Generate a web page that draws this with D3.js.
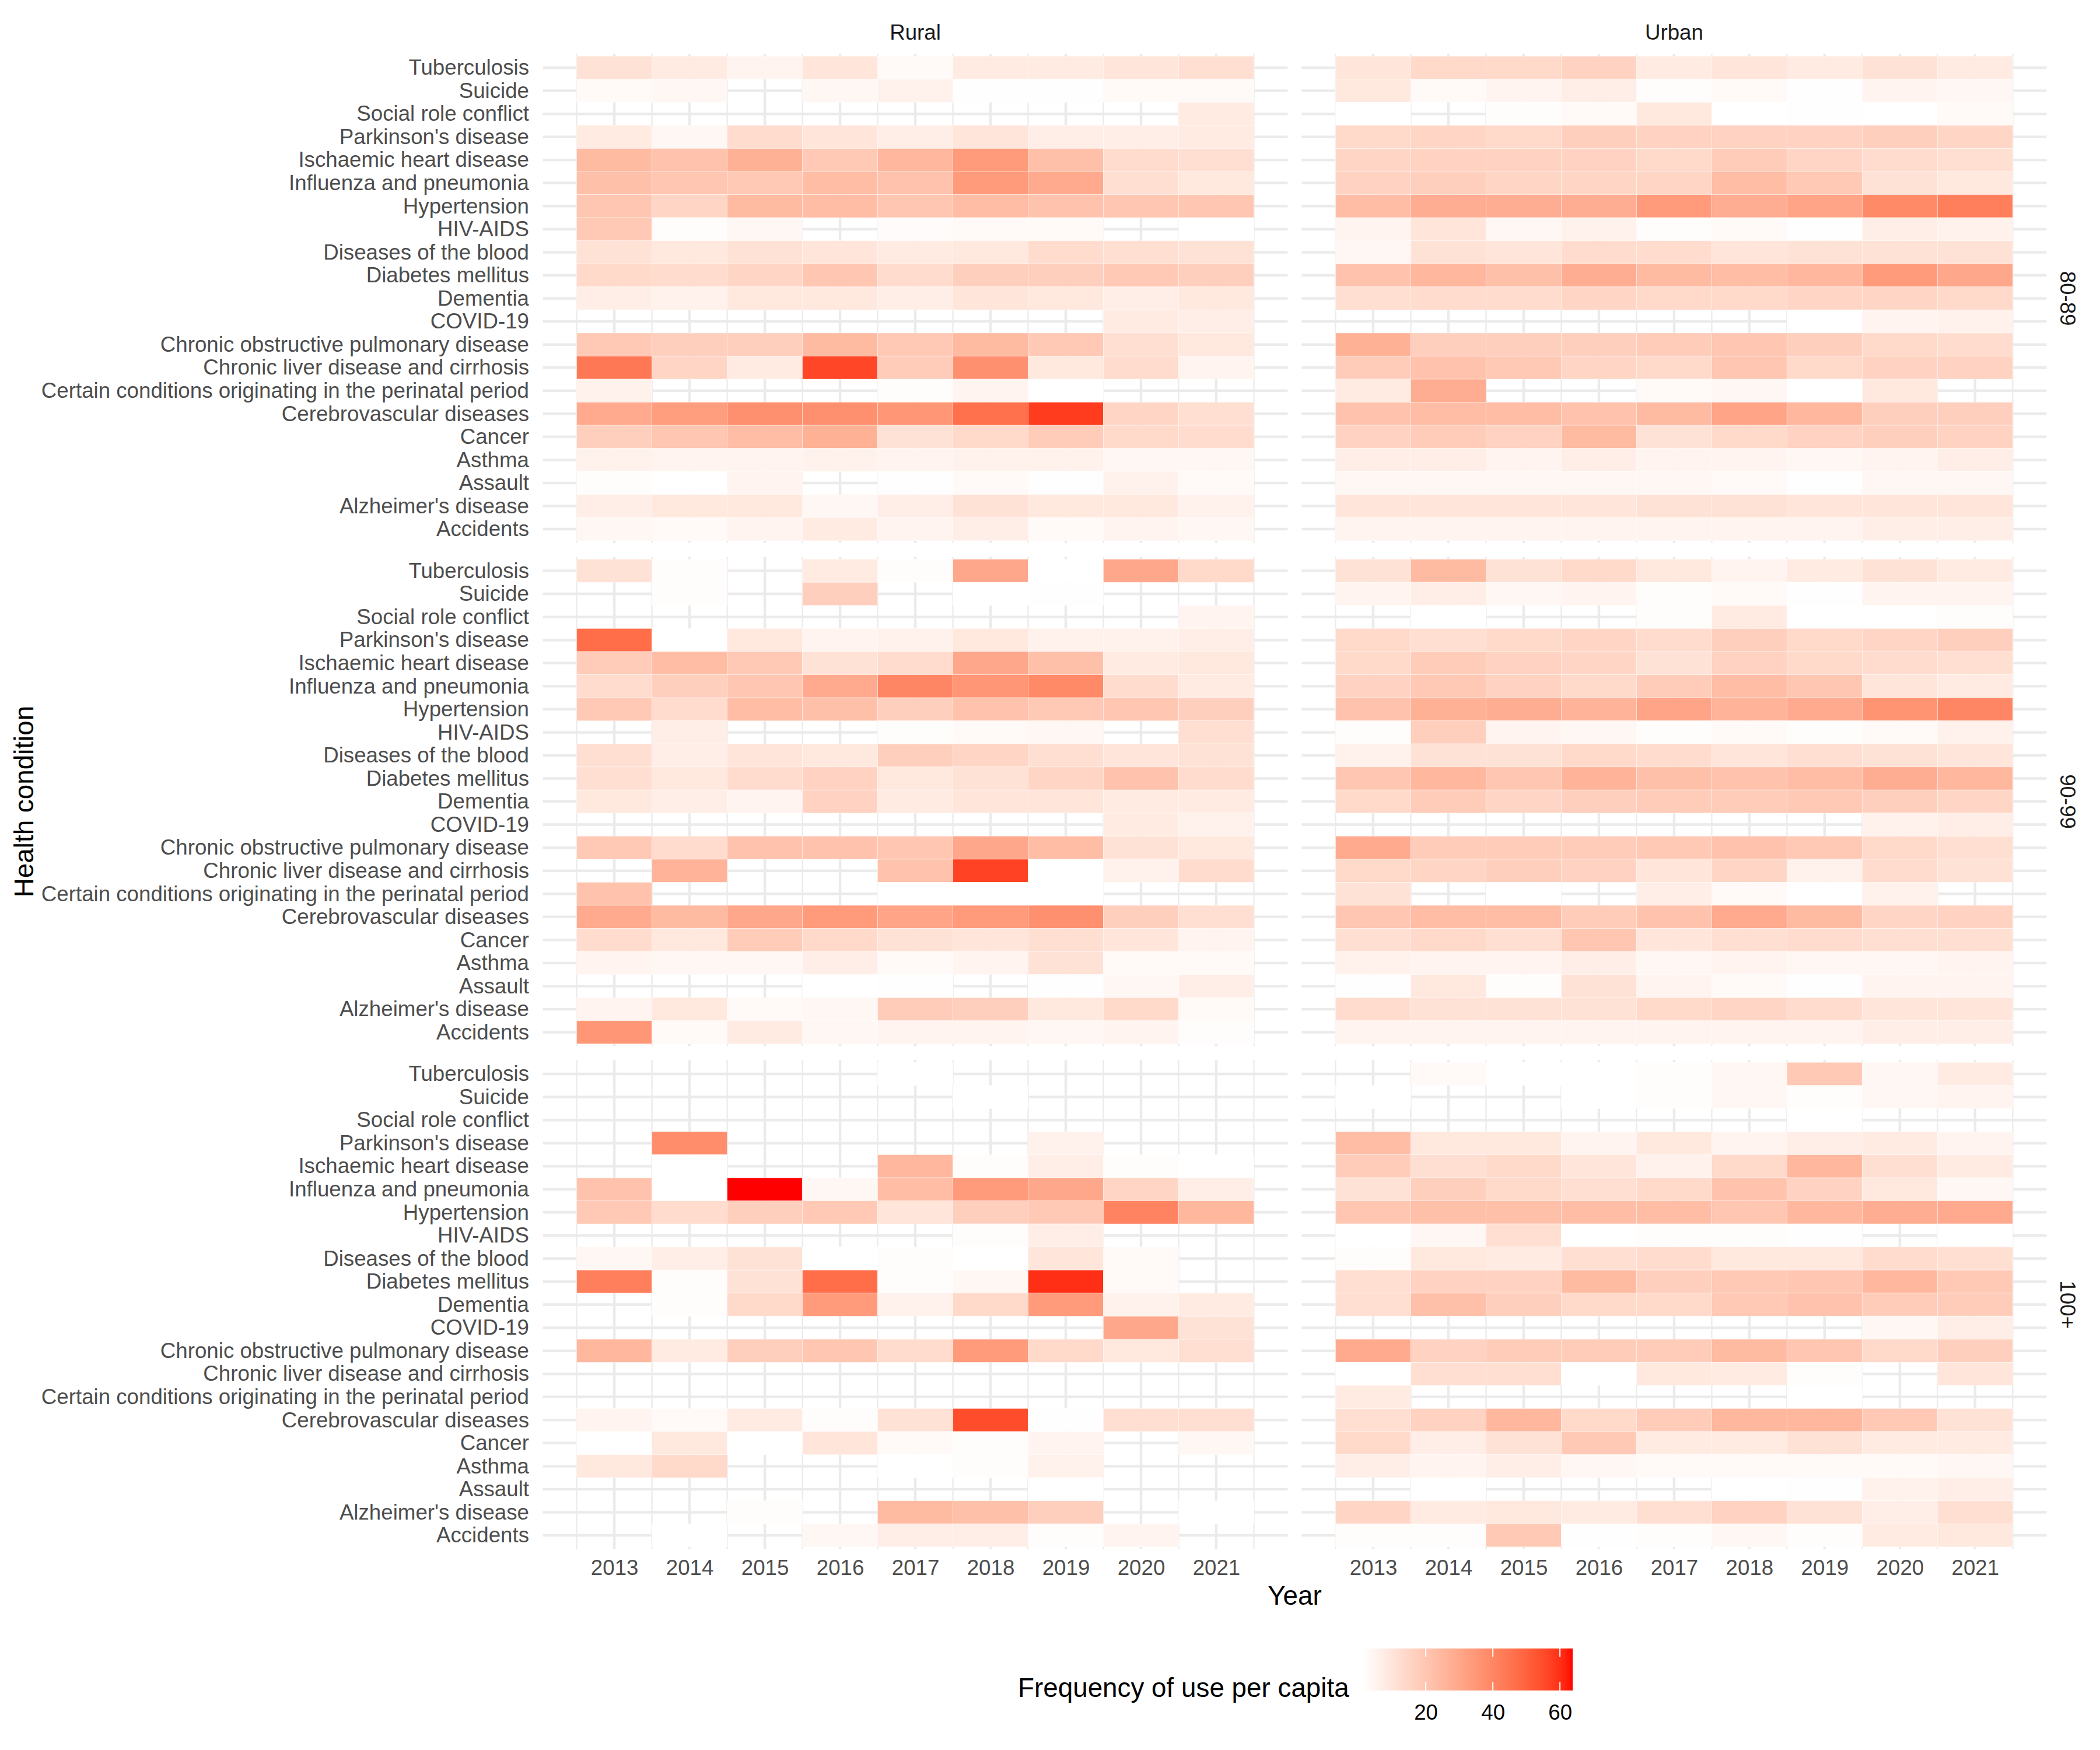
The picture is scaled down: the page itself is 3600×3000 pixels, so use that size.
<!DOCTYPE html>
<html>
<head>
<meta charset="utf-8">
<script src="https://cdn.jsdelivr.net/npm/d3@7"></script>
<style>
  body { margin: 0; background: #ffffff; }
  text { font-family: "Liberation Sans", Arial, Helvetica, sans-serif; }
</style>
</head>
<body>
<svg id="chart" width="3600" height="3000" xmlns="http://www.w3.org/2000/svg"></svg>
<script>
// ---------------- DATA ----------------
const years = [2013, 2014, 2015, 2016, 2017, 2018, 2019, 2020, 2021];
// top-to-bottom display order
const conditions = [
  "Tuberculosis", "Suicide", "Social role conflict", "Parkinson's disease",
  "Ischaemic heart disease", "Influenza and pneumonia", "Hypertension", "HIV-AIDS",
  "Diseases of the blood", "Diabetes mellitus", "Dementia", "COVID-19",
  "Chronic obstructive pulmonary disease", "Chronic liver disease and cirrhosis",
  "Certain conditions originating in the perinatal period", "Cerebrovascular diseases",
  "Cancer", "Asthma", "Assault", "Alzheimer's disease", "Accidents"
];
const areas = ["Rural", "Urban"];
const ageGroups = ["80-89", "90-99", "100+"];
const N = null;

// rows follow `conditions`, columns follow `years`
const rural_80_89 = [
  [11, 8, 5, 10, 3, 8, 8, 10, 12],
  [3, 4, N, 4, 6, 1.5, 1.5, 3, 3],
  [N, N, N, N, N, N, N, N, 8],
  [8, 4, 13, 10, 7, 10, 7, 7, 8],
  [24, 21, 27, 19, 25, 34, 22, 13, 12],
  [22, 20, 19, 23, 21, 34, 29, 12, 9],
  [20, 15, 24, 23, 20, 23, 21, 20, 20],
  [19, 2, 4, N, 2.5, 3, 3, N, 1.3],
  [11, 9, 11, 10, 8, 9, 13, 12, 11],
  [14, 13, 15, 20, 13, 17, 17, 19, 17],
  [7, 6, 9, 9, 7, 10, 9, 7, 9],
  [N, N, N, N, N, N, N, 8, 7],
  [19, 17, 17, 24, 19, 24, 19, 12, 9],
  [44, 15, 8, 56, 18, 37, 9, 13, 5],
  [6, N, N, N, 2, 5, 1.3, N, N],
  [29, 33, 37, 37, 35, 46, 58, 15, 12],
  [17, 20, 23, 27, 11, 14, 18, 14, 13],
  [6, 5, 5, 6, 5, 6, 6, 4, 4],
  [2, 1.3, 5, N, 1.5, 3, 1.5, 6, 3],
  [7, 9, 9, 4, 7, 11, 9, 9, 6],
  [4, 3, 5, 8, 5, 7, 3, 5, 4]
];
const urban_80_89 = [
  [10, 14, 14, 16, 8, 10, 8, 11, 8],
  [9, 3, 5, 7, 2, 3, 1.5, 5, 4],
  [1.3, N, 2, 3, 9, 1.3, 1.5, 1.3, 3],
  [14, 15, 14, 17, 16, 16, 16, 17, 15],
  [15, 16, 16, 16, 14, 18, 15, 13, 12],
  [16, 17, 15, 15, 15, 23, 19, 11, 9],
  [23, 28, 28, 28, 34, 28, 31, 39, 42],
  [5, 10, 4, 6, 2, 3, 1.5, 7, 6],
  [4, 11, 10, 13, 13, 10, 11, 11, 11],
  [21, 25, 22, 28, 24, 23, 25, 34, 30],
  [12, 13, 13, 15, 14, 14, 15, 15, 14],
  [N, N, N, N, N, N, 1.3, 5, 6],
  [27, 17, 17, 17, 18, 20, 17, 14, 13],
  [18, 21, 19, 15, 14, 20, 14, 16, 16],
  [8, 28, N, N, 3, 4, 1.3, 9, N],
  [21, 23, 23, 21, 24, 31, 25, 17, 17],
  [16, 18, 16, 24, 11, 14, 16, 17, 16],
  [7, 7, 5, 7, 5, 5, 4, 5, 7],
  [4, 4, 4, 4, 4, 3, 1.5, 4, 4],
  [10, 10, 10, 10, 11, 11, 10, 10, 10],
  [5, 5, 5, 5, 5, 5, 5, 7, 7]
];
const rural_90_99 = [
  [11, 2, N, 8, 2, 30, 1.3, 30, 14],
  [N, 2, N, 17, N, 1.3, 1.5, N, N],
  [N, N, N, N, N, N, N, N, 5],
  [47, 1.3, 9, 5, 6, 9, 6, 6, 7],
  [18, 23, 19, 11, 13, 30, 22, 8, 9],
  [13, 17, 20, 29, 40, 35, 39, 13, 8],
  [19, 13, 23, 22, 17, 21, 19, 20, 17],
  [N, 7, N, N, 2, 3, 4, N, 12],
  [12, 7, 10, 9, 17, 15, 12, 10, 11],
  [12, 9, 13, 16, 9, 11, 15, 21, 13],
  [9, 7, 5, 16, 8, 10, 10, 8, 8],
  [N, N, N, N, N, N, N, 8, 6],
  [19, 13, 21, 21, 20, 30, 23, 11, 9],
  [N, 26, N, N, 21, 57, 1.3, 6, 13],
  [21, N, N, N, 1.3, 1.3, 1.3, N, N],
  [29, 24, 30, 34, 31, 34, 37, 17, 12],
  [13, 9, 18, 14, 11, 10, 12, 10, 5],
  [5, 4, 4, 7, 3, 5, 11, 3, 3],
  [N, N, N, 1.3, 1.5, N, 1.5, 4, 7],
  [5, 9, 3, 4, 18, 17, 9, 14, 3],
  [35, 3, 8, 4, 5, 5, 4, 5, 2]
];
const urban_90_99 = [
  [11, 24, 11, 14, 9, 5, 8, 11, 8],
  [5, 7, 4, 5, 2, 3, 1.5, 5, 5],
  [N, 1.3, N, N, 2, 8, 1.3, 1.3, 2],
  [14, 12, 14, 15, 13, 17, 14, 15, 17],
  [14, 18, 16, 15, 11, 16, 14, 13, 12],
  [16, 19, 16, 14, 18, 23, 20, 10, 8],
  [21, 27, 28, 26, 31, 26, 29, 36, 40],
  [2, 17, 5, 4, 2, 3, 2, 3, 6],
  [6, 11, 11, 14, 13, 10, 12, 11, 10],
  [20, 25, 20, 26, 22, 21, 23, 28, 25],
  [14, 18, 15, 17, 18, 18, 19, 17, 15],
  [N, N, N, N, N, N, N, 6, 7],
  [29, 18, 18, 18, 19, 21, 19, 14, 12],
  [14, 15, 17, 16, 10, 15, 6, 13, 11],
  [11, N, 1.3, N, 7, 3, 1.3, 6, N],
  [20, 23, 23, 18, 21, 29, 24, 15, 16],
  [12, 14, 12, 20, 10, 12, 13, 12, 12],
  [6, 5, 5, 7, 4, 5, 4, 4, 5],
  [1.5, 9, 2, 11, 5, 3, 1.5, 5, 5],
  [13, 11, 11, 11, 14, 15, 13, 10, 10],
  [5, 5, 5, 5, 5, 5, 5, 7, 7]
];
const rural_100plus = [
  [N, N, N, N, 1.3, N, N, N, N],
  [N, N, N, N, N, 1.3, N, N, N],
  [N, N, N, N, N, N, N, N, N],
  [N, 38, N, N, N, N, 6, N, N],
  [N, 1.3, N, N, 25, 2, 7, 2, 1.3],
  [21, 1.3, 63.8, 4, 23, 34, 30, 15, 7],
  [19, 13, 17, 19, 10, 17, 19, 41, 25],
  [N, N, N, N, N, 2, 7, N, N],
  [4, 7, 11, 1.3, 2, 1.3, 10, 3, N],
  [42, 2, 11, 47, 2, 4, 60, 3, N],
  [N, 2, 14, 34, 6, 14, 34, 6, 8],
  [N, N, N, N, N, N, N, 30, 11],
  [25, 8, 17, 20, 13, 34, 14, 9, 12],
  [N, N, N, N, N, N, N, N, N],
  [N, N, N, N, N, N, N, N, N],
  [5, 3, 8, 2, 11, 55, 1.5, 12, 12],
  [1.3, 9, 1.3, 10, 3, 2, 5, N, 4],
  [9, 14, N, N, 1.3, 2, 6, N, N],
  [N, N, N, N, N, N, 1.3, N, N],
  [N, N, 2, N, 24, 22, 17, N, 1.3],
  [N, 1.3, N, 4, 7, 7, 2, 5, N]
];
const urban_100plus = [
  [N, 3, 1.3, 1.3, 2, 4, 19, 4, 8],
  [1.3, N, N, 1.3, 2, 4, 2, 4, 5],
  [N, N, N, N, N, N, 1.3, N, N],
  [23, 9, 9, 5, 9, 5, 7, 8, 5],
  [18, 12, 14, 10, 6, 14, 25, 12, 8],
  [11, 17, 14, 12, 14, 21, 16, 9, 4],
  [20, 22, 22, 23, 23, 20, 25, 28, 29],
  [1.3, 4, 12, 1.3, 2, 2, 1.5, N, 1.3],
  [2, 9, 8, 12, 13, 9, 9, 13, 12],
  [12, 16, 16, 24, 17, 19, 20, 25, 19],
  [12, 22, 17, 14, 14, 19, 21, 18, 18],
  [N, N, N, N, N, N, N, 4, 7],
  [29, 16, 18, 18, 18, 24, 20, 14, 17],
  [1.3, 12, 12, 1.3, 9, 8, 2, N, 10],
  [8, N, N, N, N, N, 1.3, N, N],
  [12, 16, 25, 14, 18, 25, 25, 19, 11],
  [14, 7, 11, 19, 8, 8, 11, 8, 8],
  [7, 5, 7, 4, 3, 3, 3, 3, 4],
  [N, 1.3, N, N, N, 1.3, 1.5, 6, 7],
  [15, 8, 9, 8, 12, 16, 11, 7, 12],
  [2, 2, 19, 1.5, 2, 4, 2, 8, 9]
];
const colorLimits = [1.2, 63.8];
const legendTicks = [20, 40, 60];
const legendTitle = "Frequency of use per capita";
const xTitle = "Year";
const yTitle = "Health condition";

// panel lookup [ageIndex][areaIndex]
const panelData = [
  [rural_80_89, urban_80_89],
  [rural_90_99, urban_90_99],
  [rural_100plus, urban_100plus]
];

// ---------------- LAYOUT ----------------
const FONT_AXIS = 36.7, FONT_TITLE = 45.8;
const panelLeft = 930.6, panelW = 1276.9, hGap = 24;
const panelTop = 92.3, panelH = 838.5, vGap = 24;
const nLev = conditions.length;

const svg = d3.select("#chart");
svg.append("rect").attr("width", 3600).attr("height", 3000).attr("fill", "#ffffff");

const color = d3.scaleLinear().domain(colorLimits).range(["#ffffff", "#ff0000"])
  .interpolate(d3.interpolateLab).clamp(true);

const levelOf = i => nLev - i; // top row -> highest level

ageGroups.forEach((age, ai) => {
  const top = panelTop + ai * (panelH + vGap);
  const ys = d3.scaleLinear().domain([0.4, nLev + 0.6]).range([top + panelH, top]);
  areas.forEach((area, ci) => {
    const left = panelLeft + ci * (panelW + hGap);
    const xs = d3.scaleLinear().domain([2012.05, 2021.95]).range([left, left + panelW]);
    const g = svg.append("g");
    // minor vertical grid
    const minor = d3.range(years[0] - 0.5, years[years.length - 1] + 1, 1);
    g.selectAll("line.vminor").data(minor).join("line")
      .attr("x1", d => xs(d)).attr("x2", d => xs(d))
      .attr("y1", top).attr("y2", top + panelH)
      .attr("stroke", "#ebebeb").attr("stroke-width", 2.3);
    // major vertical grid
    g.selectAll("line.vmajor").data(years).join("line")
      .attr("x1", d => xs(d)).attr("x2", d => xs(d))
      .attr("y1", top).attr("y2", top + panelH)
      .attr("stroke", "#ebebeb").attr("stroke-width", 4.5);
    // major horizontal grid
    g.selectAll("line.hmajor").data(conditions).join("line")
      .attr("x1", left).attr("x2", left + panelW)
      .attr("y1", (d, i) => ys(levelOf(i))).attr("y2", (d, i) => ys(levelOf(i)))
      .attr("stroke", "#ebebeb").attr("stroke-width", 4.5);

    // tiles
    const cells = [];
    panelData[ai][ci].forEach((row, ri) => {
      row.forEach((v, yi) => {
        if (v !== null) cells.push({ lev: levelOf(ri), year: years[yi], v });
      });
    });
    g.selectAll("rect.tile").data(cells).join("rect")
      .attr("x", d => xs(d.year - 0.5))
      .attr("y", d => ys(d.lev + 0.5))
      .attr("width", d => xs(d.year + 0.5) - xs(d.year - 0.5))
      .attr("height", d => ys(d.lev - 0.5) - ys(d.lev + 0.5))
      .attr("fill", d => color(d.v))
      .attr("stroke", "rgba(255,255,255,0.45)")
      .attr("stroke-width", 1);

    // y axis labels (left column only)
    if (ci === 0) {
      const ax = d3.axisLeft(ys)
        .tickValues(d3.range(1, nLev + 1))
        .tickFormat(l => conditions[nLev - l])
        .tickSize(0).tickPadding(23.6);
      const axg = svg.append("g").attr("transform", `translate(${left},0)`).call(ax);
      axg.select(".domain").remove();
      axg.selectAll("text")
        .attr("font-size", FONT_AXIS)
        .attr("font-family", '"Liberation Sans", Arial, sans-serif')
        .attr("fill", "#4d4d4d");
    }
    // x axis labels (bottom row only)
    if (ai === ageGroups.length - 1) {
      const ax = d3.axisBottom(xs).tickValues(years).tickFormat(d3.format("d"))
        .tickSize(0).tickPadding(18);
      const axg = svg.append("g").attr("transform", `translate(0,${top + panelH})`).call(ax);
      axg.select(".domain").remove();
      axg.selectAll("text")
        .attr("font-size", FONT_AXIS)
        .attr("font-family", '"Liberation Sans", Arial, sans-serif')
        .attr("fill", "#4d4d4d");
    }
    // top strips
    if (ai === 0) {
      svg.append("text")
        .attr("x", left + panelW / 2).attr("y", top - 37)
        .attr("text-anchor", "middle").attr("dominant-baseline", "central")
        .attr("font-size", FONT_AXIS).attr("fill", "#1a1a1a")
        .text(area);
    }
    // right strips
    if (ci === areas.length - 1) {
      const cx = left + panelW + 36.5, cy = top + panelH / 2;
      svg.append("text")
        .attr("transform", `translate(${cx},${cy}) rotate(90)`)
        .attr("text-anchor", "middle").attr("dominant-baseline", "central")
        .attr("font-size", FONT_AXIS).attr("fill", "#1a1a1a")
        .text(age);
    }
  });
});

// axis titles
const panelsRight = panelLeft + 2 * panelW + hGap;
const panelsBottom = panelTop + 3 * panelH + 2 * vGap;
svg.append("text")
  .attr("x", (panelLeft + panelsRight) / 2).attr("y", 2735)
  .attr("text-anchor", "middle").attr("dominant-baseline", "central")
  .attr("font-size", FONT_TITLE).attr("fill", "#000000")
  .text(xTitle);
svg.append("text")
  .attr("transform", `translate(41,${(panelTop + panelsBottom) / 2}) rotate(-90)`)
  .attr("text-anchor", "middle").attr("dominant-baseline", "central")
  .attr("font-size", FONT_TITLE).attr("fill", "#000000")
  .text(yTitle);

// ---------------- LEGEND ----------------
const barX0 = 2336, barX1 = 2696, barY0 = 2826, barY1 = 2898;
const lscale = d3.scaleLinear().domain(colorLimits).range([barX0, barX1]);
const defs = svg.append("defs");
const grad = defs.append("linearGradient").attr("id", "lg")
  .attr("x1", "0%").attr("x2", "100%").attr("y1", "0%").attr("y2", "0%");
d3.range(0, 1.0001, 0.02).forEach(t => {
  grad.append("stop").attr("offset", `${t * 100}%`)
    .attr("stop-color", color(colorLimits[0] + t * (colorLimits[1] - colorLimits[0])));
});
svg.append("rect").attr("x", barX0).attr("y", barY0)
  .attr("width", barX1 - barX0).attr("height", barY1 - barY0)
  .attr("fill", "url(#lg)");
const tickLen = (barY1 - barY0) / 5;
svg.selectAll("line.lt1").data(legendTicks).join("line")
  .attr("x1", d => lscale(d)).attr("x2", d => lscale(d))
  .attr("y1", barY0).attr("y2", barY0 + tickLen)
  .attr("stroke", "#ffffff").attr("stroke-width", 2);
svg.selectAll("line.lt2").data(legendTicks).join("line")
  .attr("x1", d => lscale(d)).attr("x2", d => lscale(d))
  .attr("y1", barY1 - tickLen).attr("y2", barY1)
  .attr("stroke", "#ffffff").attr("stroke-width", 2);
const lax = d3.axisBottom(lscale).tickValues(legendTicks).tickSize(0).tickPadding(24);
const laxg = svg.append("g").attr("transform", `translate(0,${barY1})`).call(lax);
laxg.select(".domain").remove();
laxg.selectAll("text")
  .attr("font-size", FONT_AXIS)
  .attr("font-family", '"Liberation Sans", Arial, sans-serif')
  .attr("fill", "#000000");
svg.append("text")
  .attr("x", 1745).attr("y", 2893)
  .attr("text-anchor", "start").attr("dominant-baseline", "central")
  .attr("font-size", FONT_TITLE).attr("fill", "#000000")
  .text(legendTitle);
</script>
</body>
</html>
